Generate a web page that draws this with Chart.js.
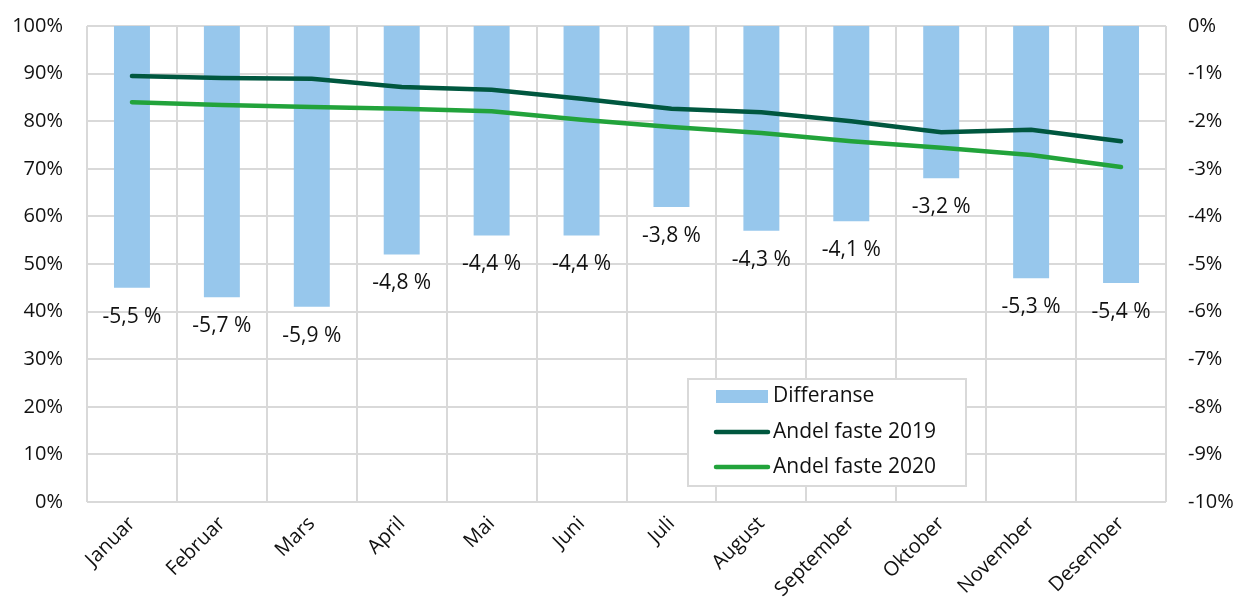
<!DOCTYPE html>
<html>
<head>
<meta charset="utf-8">
<script src="https://cdn.jsdelivr.net/npm/chart.js@4.4.1/dist/chart.umd.min.js"></script>
<style>
  html, body { margin: 0; padding: 0; background: #fff; }
  #wrap { width: 1237px; height: 608px; position: relative; }
</style>
</head>
<body>
<div id="wrap"><canvas id="chart"></canvas></div>
<script>
// data
const maaneder = ['Januar', 'Februar', 'Mars', 'April', 'Mai', 'Juni', 'Juli', 'August', 'September', 'Oktober', 'November', 'Desember'];
const differanse = [-5.5, -5.7, -5.9, -4.8, -4.4, -4.4, -3.8, -4.3, -4.1, -3.2, -5.3, -5.4];
const andel2019 = [89.5, 89.1, 88.9, 87.2, 86.6, 84.7, 82.6, 81.9, 80.0, 77.7, 78.2, 75.8];
const andel2020 = [84.0, 83.4, 83.0, 82.6, 82.1, 80.3, 78.8, 77.5, 75.8, 74.4, 72.9, 70.4];

const FONT = '"Open Sans", "Noto Sans", sans-serif';
const BLAA = '#97c7ec';
const MORK = '#00573f';
const LYS = '#22a33b';
const GRID = '#d9d9d9';

// etiketter under søylene
const etiketter = {
  id: 'etiketter',
  afterDatasetsDraw(chart) {
    const ctx = chart.ctx;
    const meta = chart.getDatasetMeta(0);
    ctx.save();
    ctx.font = '21px ' + FONT;
    ctx.fillStyle = '#111';
    ctx.textAlign = 'center';
    ctx.textBaseline = 'middle';
    meta.data.forEach((bar, i) => {
      const txt = differanse[i].toFixed(1).replace('.', ',') + ' %';
      ctx.fillText(txt, bar.x, bar.y + 29);
    });
    ctx.restore();
  }
};

// forklaring inne i diagrammet
const forklaring = {
  id: 'forklaring',
  afterDraw(chart) {
    const ctx = chart.ctx;
    ctx.save();
    ctx.fillStyle = '#fff';
    ctx.fillRect(688, 379, 278, 107);
    ctx.strokeStyle = GRID;
    ctx.lineWidth = 2;
    ctx.strokeRect(688, 379, 278, 107);
    ctx.fillStyle = BLAA;
    ctx.fillRect(716, 390, 52, 13);
    ctx.lineCap = 'round';
    ctx.lineWidth = 4.5;
    ctx.strokeStyle = MORK;
    ctx.beginPath(); ctx.moveTo(716, 432); ctx.lineTo(768, 432); ctx.stroke();
    ctx.strokeStyle = LYS;
    ctx.beginPath(); ctx.moveTo(716, 467); ctx.lineTo(768, 467); ctx.stroke();
    ctx.font = '21px ' + FONT;
    ctx.fillStyle = '#111';
    ctx.textBaseline = 'middle';
    ctx.fillText('Differanse', 773, 396);
    ctx.fillText('Andel faste 2019', 773, 432);
    ctx.fillText('Andel faste 2020', 773, 467);
    ctx.restore();
  }
};

// fast plassering av plotteområdet
function nullPadding(scale) {
  scale.paddingTop = 0;
  scale.paddingBottom = 0;
  scale.paddingLeft = 0;
  scale.paddingRight = 0;
}

new Chart(document.getElementById('chart'), {
  type: 'bar',
  data: {
    labels: maaneder,
    datasets: [
      {
        label: 'Differanse',
        data: differanse,
        backgroundColor: BLAA,
        yAxisID: 'yDiff',
        barPercentage: 1,
        categoryPercentage: 0.4,
        order: 3
      },
      {
        type: 'line',
        label: 'Andel faste 2019',
        data: andel2019,
        borderColor: MORK,
        borderWidth: 4.5,
        borderCapStyle: 'round',
        pointRadius: 0,
        tension: 0,
        yAxisID: 'y',
        order: 1
      },
      {
        type: 'line',
        label: 'Andel faste 2020',
        data: andel2020,
        borderColor: LYS,
        borderWidth: 4.5,
        borderCapStyle: 'round',
        pointRadius: 0,
        tension: 0,
        yAxisID: 'y',
        order: 2
      }
    ]
  },
  options: {
    responsive: true,
    maintainAspectRatio: false,
    animation: false,
    layout: { padding: { top: 26, bottom: 0, left: 0, right: 0 } },
    plugins: {
      legend: { display: false },
      tooltip: { enabled: false }
    },
    scales: {
      x: {
        grid: { color: GRID, lineWidth: 2, drawTicks: false, offset: true },
        border: { display: false },
        ticks: {
          font: { family: FONT, size: 20 },
          color: '#111',
          minRotation: 45,
          maxRotation: 45,
          padding: 10
        },
        afterFit(scale) { scale.height = 106; nullPadding(scale); }
      },
      y: {
        position: 'left',
        min: 0,
        max: 100,
        ticks: {
          stepSize: 10,
          font: { family: FONT, size: 20 },
          color: '#111',
          padding: 24,
          callback: v => v + '%'
        },
        grid: { color: GRID, lineWidth: 2, drawTicks: false },
        border: { display: false },
        afterFit(scale) { scale.width = 87; nullPadding(scale); }
      },
      yDiff: {
        position: 'right',
        min: -10,
        max: 0,
        ticks: {
          stepSize: 1,
          font: { family: FONT, size: 20 },
          color: '#111',
          padding: 22,
          callback: v => v + '%'
        },
        grid: { display: false, drawTicks: false },
        border: { display: false },
        afterFit(scale) { scale.width = 71; nullPadding(scale); }
      }
    }
  },
  plugins: [etiketter, forklaring]
});
</script>
</body>
</html>
